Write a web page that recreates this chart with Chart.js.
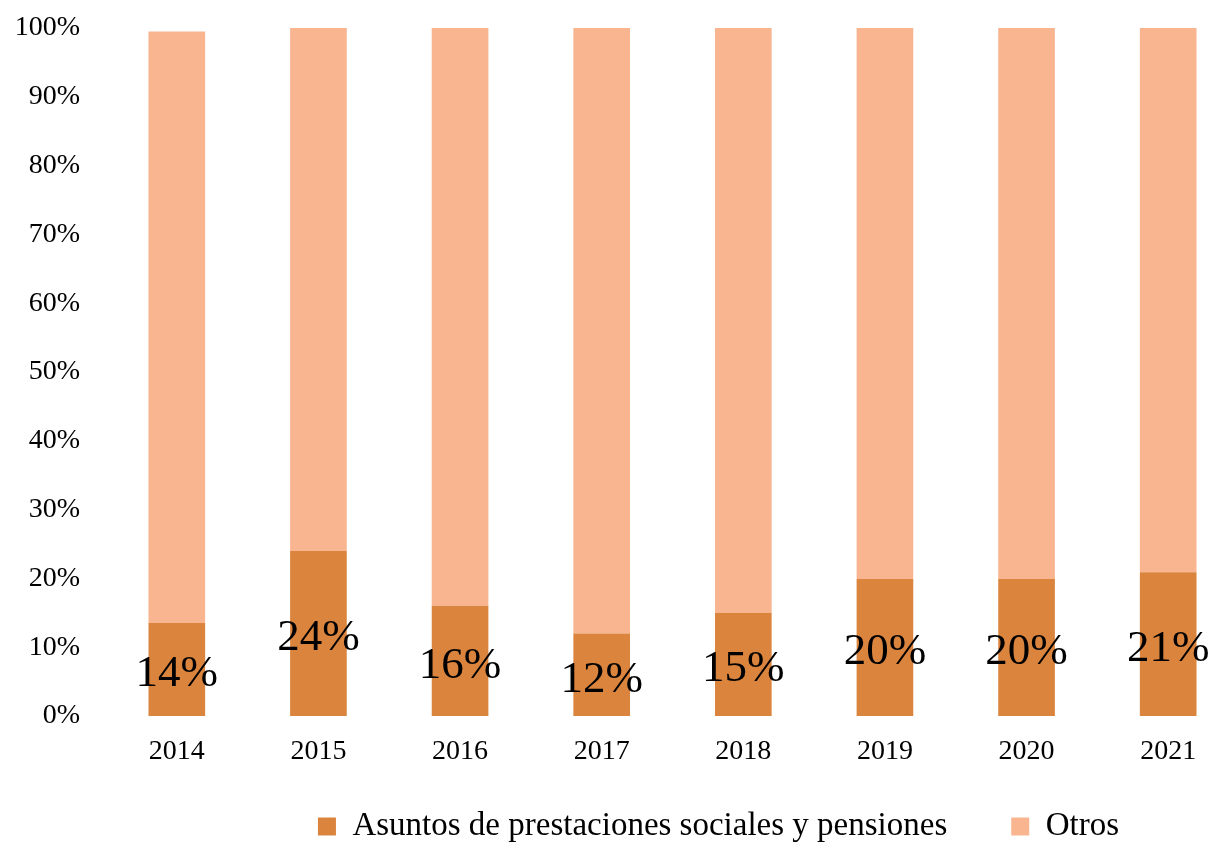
<!DOCTYPE html>
<html>
<head>
<meta charset="utf-8">
<script src="https://cdn.jsdelivr.net/npm/chart.js@4/dist/chart.umd.min.js"></script>
<style>
  html, body { margin: 0; padding: 0; background: #fff; overflow: hidden; }
  #wrap { position: absolute; left: 0; top: 0; width: 1240px; height: 843px; }
</style>
</head>
<body>
<div id="wrap"><canvas id="c" width="1240" height="843"></canvas></div>
<script>
// ---- data ----
const categories = ['2014', '2015', '2016', '2017', '2018', '2019', '2020', '2021'];
const seriesNames = ['Asuntos de prestaciones sociales y pensiones', 'Otros'];
const asuntos = [13.5, 24.0, 16.0, 12.0, 15.0, 19.9, 19.9, 20.9];
const otros = [86.0, 76.0, 84.0, 88.0, 85.0, 80.1, 80.1, 79.1];
const yTicks = [0, 10, 20, 30, 40, 50, 60, 70, 80, 90, 100];

const DARK = '#DB843D';
const LIGHT = '#F8B590';
const FONT = "'Liberation Serif', 'Times New Roman', serif";

Chart.defaults.font.family = FONT;
Chart.defaults.color = '#000';

const LEGEND_DX = 99;
const LEGEND_DY = -20;

const legendShift = {
  id: 'legendShift',
  afterLayout(chart) {
    const l = chart.legend;
    if (!l) return;
    l.left += LEGEND_DX; l.right += LEGEND_DX;
    l.top += LEGEND_DY; l.bottom += LEGEND_DY;
  }
};

const barLabels = {
  id: 'barLabels',
  afterDatasetsDraw(chart) {
    const ctx = chart.ctx;
    const meta = chart.getDatasetMeta(0);
    ctx.save();
    ctx.font = '45px ' + FONT;
    ctx.fillStyle = '#000';
    ctx.textAlign = 'center';
    ctx.textBaseline = 'middle';
    meta.data.forEach((bar, i) => {
      const v = chart.data.datasets[0].data[i];
      const yc = (bar.y + bar.base) / 2 + 5;
      ctx.fillText(Math.round(v) + '%', bar.x, yc);
    });
    ctx.restore();
  }
};

new Chart(document.getElementById('c'), {
  type: 'bar',
  data: {
    labels: categories,
    datasets: [
      { label: seriesNames[0], data: asuntos, backgroundColor: DARK, borderWidth: 0 },
      { label: seriesNames[1], data: otros, backgroundColor: LIGHT, borderWidth: 0 }
    ]
  },
  options: {
    responsive: false,
    animation: false,
    devicePixelRatio: 1,
    layout: { padding: { left: 0, right: 1, top: 28, bottom: -30 } },
    datasets: { bar: { categoryPercentage: 1.0, barPercentage: 0.4 } },
    scales: {
      x: {
        stacked: true,
        grid: { display: false, drawTicks: false },
        border: { display: false },
        ticks: { font: { size: 28 }, color: '#000', padding: 19, maxRotation: 0 },
        afterFit(s) { s.height = 50; }
      },
      y: {
        stacked: true,
        min: 0, max: 100,
        grid: { display: false, drawTicks: false },
        border: { display: false },
        afterBuildTicks(s) { s.ticks = yTicks.map(v => ({ value: v })); },
        ticks: { font: { size: 28 }, color: '#000', padding: 26, callback: v => v + '%' },
        afterFit(s) { s.width = 106; s.paddingTop = 0; s.paddingBottom = 0; }
      }
    },
    plugins: {
      legend: {
        position: 'bottom',
        labels: { boxWidth: 18, boxHeight: 18, padding: 64, font: { size: 33 }, color: '#000' }
      },
      tooltip: { enabled: false }
    }
  },
  plugins: [legendShift, barLabels]
});
</script>
</body>
</html>
